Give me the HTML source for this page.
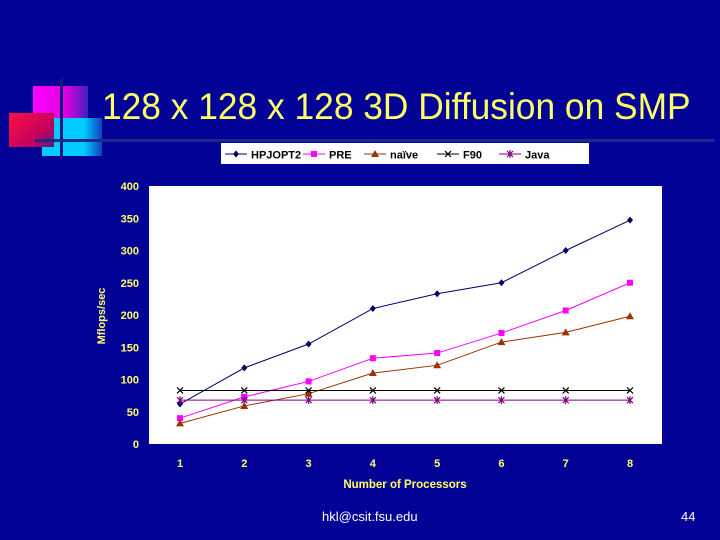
<!DOCTYPE html>
<html><head><meta charset="utf-8"><style>
body{margin:0;width:720px;height:540px;background:#020296;overflow:hidden;position:relative;font-family:"Liberation Sans",sans-serif}
.a{position:absolute}
</style></head><body>
<div class="a" style="left:33px;top:86px;width:55px;height:38px;background:linear-gradient(90deg,#ff00ff,#e000e0 60%,#4020c0)"></div>
<div class="a" style="left:42px;top:118px;width:60px;height:38px;background:linear-gradient(90deg,#00ccff,#00ccff 70%,#1040c0)"></div>
<div class="a" style="left:9px;top:113px;width:45px;height:34px;background:linear-gradient(135deg,#ff1040,#c00060 70%,#502080)"></div>
<div class="a" style="left:60px;top:78px;width:3px;height:80px;background:#101880"></div>
<div class="a" style="left:35px;top:139px;width:680px;height:3px;background:#1a2a8a"></div>
<div class="a" style="left:102px;top:86px;font-size:37px;color:#ffff66;transform:scaleX(0.955);transform-origin:left;white-space:nowrap">128 x 128 x 128 3D Diffusion on SMP</div>
<svg class="a" style="left:0;top:0" width="720" height="540" id="c"></svg>
<div class="a" style="left:322px;top:509px;font-size:13px;color:#fff">hkl@csit.fsu.edu</div>
<div class="a" style="left:681px;top:509px;font-size:13px;color:#fff">44</div>
<script>
const categories=[1,2,3,4,5,6,7,8];
const hpjopt2=[62,118,155,210,233,250,300,347];
const pre=[40,73,97,133,141,172,207,250];
const naive=[32,59,78,110,122,158,173,198];
const f90=[83,83,83,83,83,83,83,83];
const java=[68,68,68,68,68,68,68,68];
const yTicks=[0,50,100,150,200,250,300,350,400];
const seriesNames=["HPJOPT2","PRE","naïve","F90","Java"];
const NS="http://www.w3.org/2000/svg";
const svg=document.getElementById('c');
function mk(t,a,p){const e=document.createElementNS(NS,t);for(const k in a)e.setAttribute(k,a[k]);(p||svg).appendChild(e);return e;}
const L=149,R=662,T=186,B=444;
const x=i=>180+(i-1)*(630-180)/7;
const y=v=>B-v*(B-T)/400;
let r=mk('rect',{x:L,y:T,width:R-L,height:B-T,fill:'#fff'});

yTicks.forEach(v=>{const t=mk('text',{x:139,y:y(v)+4,'text-anchor':'end','font-size':11,'font-weight':'bold',fill:'#ffff66'});t.textContent=v;
});
categories.forEach(c=>{const t=mk('text',{x:x(c),y:467,'text-anchor':'middle','font-size':11,'font-weight':'bold',fill:'#ffff66'});t.textContent=c;
});
let xt=mk('text',{x:405,y:488,'text-anchor':'middle','font-size':11.5,'font-weight':'bold',fill:'#ffff66'});xt.textContent='Number of Processors';

let yt=mk('text',{x:0,y:0,transform:'translate(105,316) rotate(-90)','text-anchor':'middle','font-size':11,'font-weight':'bold',fill:'#ffff66'});yt.textContent='Mflops/sec';

function marker(g,type,cx,cy,col){
 if(type==='d')mk('polygon',{points:`${cx},${cy-3.5} ${cx+3},${cy} ${cx},${cy+3.5} ${cx-3},${cy}`,fill:col},g);
 else if(type==='s')mk('rect',{x:cx-3,y:cy-3,width:6,height:6,fill:col},g);
 else if(type==='t')mk('polygon',{points:`${cx},${cy-4} ${cx+4},${cy+3} ${cx-4},${cy+3}`,fill:col},g);
 else if(type==='x'){mk('path',{d:`M${cx-3} ${cy-3}L${cx+3} ${cy+3}M${cx+3} ${cy-3}L${cx-3} ${cy+3}`,stroke:col,'stroke-width':1.2},g);}
 else {mk('path',{d:`M${cx-3} ${cy-3}L${cx+3} ${cy+3}M${cx+3} ${cy-3}L${cx-3} ${cy+3}M${cx} ${cy-4}V${cy+4}`,stroke:col,'stroke-width':1.2},g);}
}
const series=[[hpjopt2,'#000066','d'],[pre,'#ff00ff','s'],[naive,'#993300','t'],[f90,'#000000','x'],[java,'#800080','a']];
series.forEach(([d,col,m],si)=>{
 const g=mk('g',{});
 
 
 mk('polyline',{points:d.map((v,i)=>x(categories[i])+','+y(v)).join(' '),fill:'none',stroke:col,'stroke-width':1},g);
 d.forEach((v,i)=>marker(g,m,x(categories[i]),y(v),col));
});
const lg=mk('g',{});

mk('rect',{x:221,y:143,width:368,height:21,fill:'#fff'},lg);
const lx=[225,303,364,437,499];
series.forEach(([d,col,m],i)=>{
 const g=mk('g',{},lg);
 
 mk('line',{x1:lx[i],y1:154,x2:lx[i]+22,y2:154,stroke:col},g);
 marker(g,m,lx[i]+11,154,col);
 const t=mk('text',{x:lx[i]+26,y:158.5,'font-size':11,'font-weight':'bold',fill:'#000'},g);t.textContent=seriesNames[i];
});
</script>
</body></html>
